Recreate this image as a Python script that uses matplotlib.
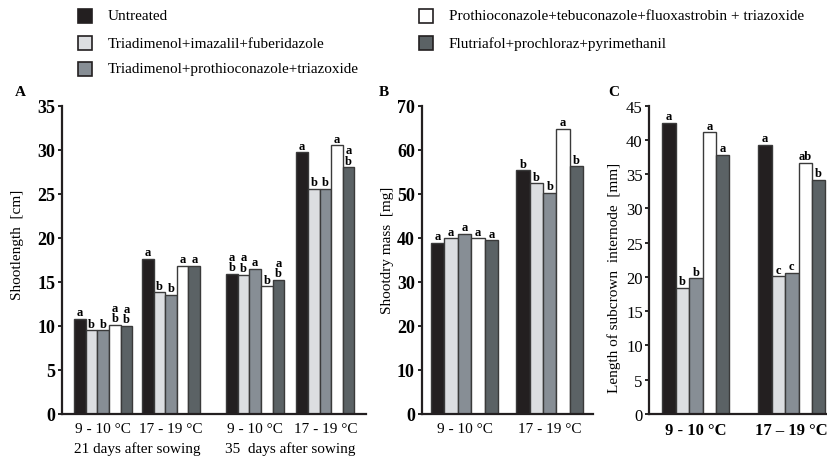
import matplotlib
matplotlib.use('Agg')
import matplotlib.pyplot as plt
import matplotlib.transforms as mtransforms
from matplotlib.patches import Rectangle

plt.rcParams['font.family'] = ['Liberation Serif', 'DejaVu Serif']

treatments = ['Untreated',
              'Triadimenol+imazalil+fuberidazole',
              'Triadimenol+prothioconazole+triazoxide',
              'Prothioconazole+tebuconazole+fluoxastrobin + triazoxide',
              'Flutriafol+prochloraz+pyrimethanil']
colors = ['#231f20', '#dcdee1', '#878e95', '#ffffff', '#5b6265']

# panel A: shoot length [cm]
a_groups = ['9 - 10 °C', '17 - 19 °C', '9 - 10 °C', '17 - 19 °C']
a_values = [[10.8, 9.5, 9.5, 10.1, 10.0],
            [17.6, 13.8, 13.5, 16.8, 16.8],
            [15.9, 15.8, 16.5, 14.5, 15.2],
            [29.7, 25.6, 25.6, 30.5, 28.0]]
a_letters = [['a', 'b', 'b', 'a\nb', 'a\nb'],
             ['a', 'b', 'b', 'a', 'a'],
             ['a\nb', 'a\nb', 'a', 'b', 'a\nb'],
             ['a', 'b', 'b', 'a', 'a\nb']]
a_periods = ['21 days after sowing', '35  days after sowing']

# panel B: shoot dry mass [mg]
b_groups = ['9 - 10 °C', '17 - 19 °C']
b_values = [[38.8, 39.9, 40.9, 39.9, 39.4],
            [55.3, 52.4, 50.2, 64.8, 56.2]]
b_letters = [['a', 'a', 'a', 'a', 'a'],
             ['b', 'b', 'b', 'a', 'b']]

# panel C: length of subcrown internode [mm]
c_groups = ['9 - 10 °C', '17 – 19 °C']
c_values = [[42.5, 18.4, 19.8, 41.1, 37.8],
            [39.3, 20.1, 20.6, 36.7, 34.2]]
c_letters = [['a', 'b', 'b', 'a', 'a'],
             ['a', 'c', 'c', 'ab', 'b']]


def draw_panel(ax, centers, values, letters, width=0.2):
    for g, c in enumerate(centers):
        for i in range(5):
            x = c + (i - 2) * width
            ax.bar(x, values[g][i], width, color=colors[i],
                   edgecolor='#3a3a3a', linewidth=1.0)
            ax.annotate(letters[g][i], (x, values[g][i]), xytext=(0, 0.5),
                        textcoords='offset points', ha='center', va='bottom',
                        fontsize=9, fontweight='bold', linespacing=0.85)
    for s in ['top', 'right']:
        ax.spines[s].set_visible(False)
    for s in ['left', 'bottom']:
        ax.spines[s].set_linewidth(1.6)
        ax.spines[s].set_color('#231f20')
    ax.tick_params(axis='x', length=0, labelsize=11, pad=6)
    ax.tick_params(axis='y', length=3, width=1.2, labelsize=13, pad=2)


fig = plt.figure(figsize=(8.28, 4.64), dpi=100)
bottom = 1 - 415 / 464
height = (415 - 106.7) / 464

# A
axA = fig.add_axes([62 / 828, bottom, 304 / 828, height])
a_centers = [0, 1.17, 2.62, 3.83]
draw_panel(axA, a_centers, a_values, a_letters)
axA.set_xlim(-0.71, 4.53)
axA.set_ylim(0, 35)
axA.set_yticks(range(0, 36, 5))
axA.set_xticks(a_centers)
axA.set_xticklabels(a_groups)
for lab in axA.get_yticklabels():
    lab.set_fontweight('bold')
trans = mtransforms.blended_transform_factory(axA.transData, axA.transAxes)
axA.text((a_centers[0] + a_centers[1]) / 2, -0.112, a_periods[0], transform=trans,
         ha='center', va='center', fontsize=11)
axA.text((a_centers[2] + a_centers[3]) / 2, -0.112, a_periods[1], transform=trans,
         ha='center', va='center', fontsize=11)

# B
axB = fig.add_axes([421.7 / 828, bottom, 171 / 828, height])
b_centers = [0, 1.27]
draw_panel(axB, b_centers, b_values, b_letters)
axB.set_xlim(-0.64, 1.91)
axB.set_ylim(0, 70)
axB.set_yticks(range(0, 71, 10))
axB.set_xticks(b_centers)
axB.set_xticklabels(b_groups)
for lab in axB.get_yticklabels():
    lab.set_fontweight('bold')

# C
axC = fig.add_axes([649 / 828, bottom, 179 / 828, height])
c_centers = [0, 1.43]
draw_panel(axC, c_centers, c_values, c_letters)
axC.set_xlim(-0.70, 1.97)
axC.set_ylim(0, 45)
axC.set_yticks(range(0, 46, 5))
axC.set_xticks(c_centers)
axC.set_xticklabels(c_groups, fontweight='bold', fontsize=12)
axC.tick_params(axis='y', labelsize=12, pad=1.5)

# y labels and panel letters
fig.text(18 / 828, 1 - 245 / 464, 'Shootlength  [cm]', rotation=90,
         ha='center', va='center', fontsize=11)
fig.text(388 / 828, 1 - 250 / 464, 'Shootdry mass  [mg]', rotation=90,
         ha='center', va='center', fontsize=11)
fig.text(614 / 828, 1 - 278 / 464, 'Length of subcrown  internode  [mm]', rotation=90,
         ha='center', va='center', fontsize=11)
for x, letter in [(20, 'A'), (384, 'B'), (614, 'C')]:
    fig.text(x / 828, 1 - 93 / 464, letter, ha='center', va='center',
             fontsize=11, fontweight='bold')

# legend
legend_pos = [(78, 17), (78, 44), (78, 70), (419, 17), (419, 44)]
for (x, y), name, col in zip(legend_pos, treatments, colors):
    fig.add_artist(Rectangle(((x) / 828, 1 - (y + 7) / 464), 14 / 828, 14 / 464,
                             transform=fig.transFigure, facecolor=col,
                             edgecolor='#231f20', linewidth=1.2))
    fig.text((x + 30) / 828, 1 - y / 464, name, ha='left', va='center', fontsize=11)

fig.savefig('out.png', dpi=100)
